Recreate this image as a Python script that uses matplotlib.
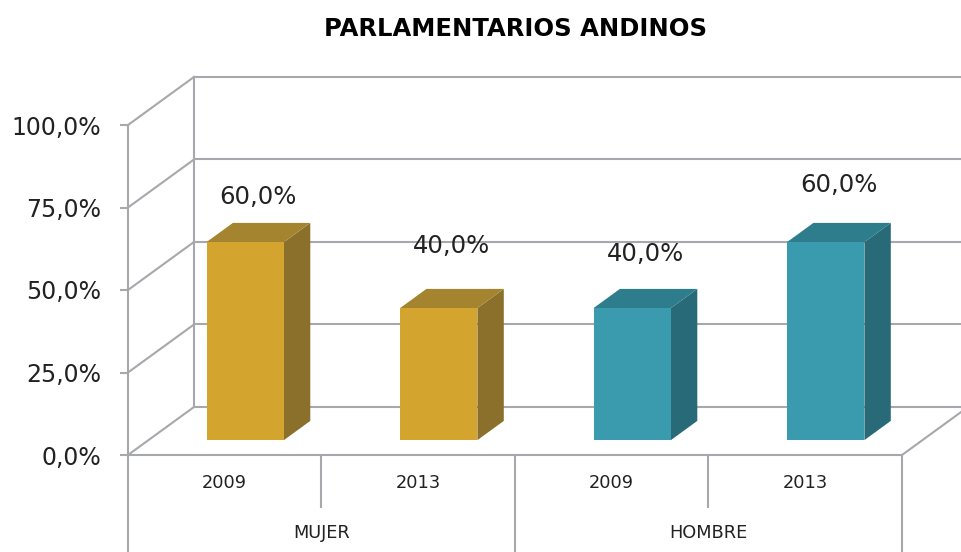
import matplotlib
matplotlib.use("Agg")
import matplotlib.pyplot as plt
from matplotlib.patches import Polygon
from matplotlib.ticker import FuncFormatter

# ---- data ----
groups = ["MUJER", "HOMBRE"]
years = ["2009", "2013", "2009", "2013"]
values = [0.60, 0.40, 0.40, 0.60]
title = "PARLAMENTARIOS ANDINOS"
yticks = [0.0, 0.25, 0.50, 0.75, 1.0]

# ---- style ----
front_cols = ["#d3a52f", "#d3a52f", "#3b9bae", "#3b9bae"]
top_cols = ["#a5842f", "#a5842f", "#2d7d8c", "#2d7d8c"]
side_cols = ["#8b702c", "#8b702c", "#286a78", "#286a78"]
label_lift = [0.08, 0.13, 0.105, 0.115]   # excel placed these a bit unevenly
grid_col = "#a6a8ab"
lw = 1.5

# depth of the fake 3d box, in data units (cat units / value units)
DX = 0.341
DY = 0.1455
BAR_W = 0.40
D0, D1 = 0.31, 0.71   # front and back of bars as a fraction of the depth

plt.rcParams["font.family"] = "DejaVu Sans"

W, H = 962, 552
fig = plt.figure(figsize=(W / 100, H / 100), dpi=100)
# front plane: x 0..4 -> px 128..902, y 0..1 -> px 455..125
ax = fig.add_axes([128 / W, (H - 455) / H, 774 / W, 330 / H])
ax.set_xlim(0, len(values))
ax.set_ylim(0, 1)

for s in ["top", "right"]:
    ax.spines[s].set_visible(False)
for s in ["left", "bottom"]:
    ax.spines[s].set_color(grid_col)
    ax.spines[s].set_linewidth(lw)
    ax.spines[s].set_zorder(1)

ax.set_xticks([])
ax.set_yticks(yticks)
ax.yaxis.set_major_formatter(FuncFormatter(lambda v, p: f"{v * 100:.1f}%".replace(".", ",")))
ax.tick_params(axis="y", direction="out", length=5.8, width=lw, color=grid_col,
               pad=13.5, labelsize=17, labelcolor="#222222")

n = len(values)

# left wall diagonals + back wall gridlines
for v in yticks:
    ax.plot([0, DX], [v, v + DY], color=grid_col, lw=lw, clip_on=False, zorder=1)
    ax.plot([DX, n + DX], [v + DY, v + DY], color=grid_col, lw=lw, clip_on=False, zorder=1)
ax.plot([DX, DX], [DY, 1 + DY], color=grid_col, lw=lw, clip_on=False, zorder=1)
# floor right edge
ax.plot([n, n + DX], [0, DY], color=grid_col, lw=lw, clip_on=False, zorder=1)

# category area below the floor
bottom = -0.32
for i in range(n + 1):
    if i % 2 == 0:
        ax.plot([i, i], [0, bottom], color=grid_col, lw=lw, clip_on=False, zorder=1)
    else:
        ax.plot([i, i], [0, -0.158], color=grid_col, lw=lw, clip_on=False, zorder=1)

for i, yr in enumerate(years):
    ax.text(i + 0.5, -0.085, yr, ha="center", va="center", fontsize=12.8, color="#222222")
for g, name in enumerate(groups):
    ax.text(2 * g + 1, -0.236, name, ha="center", va="center", fontsize=12.8, color="#222222")

# bars
for i, v in enumerate(values):
    xl = i + 0.5 - BAR_W / 2
    xr = i + 0.5 + BAR_W / 2
    fx, fy = D0 * DX, D0 * DY
    bx, by = D1 * DX, D1 * DY
    front = [(xl + fx, fy), (xr + fx, fy), (xr + fx, v + fy), (xl + fx, v + fy)]
    top = [(xl + fx, v + fy), (xr + fx, v + fy), (xr + bx, v + by), (xl + bx, v + by)]
    side = [(xr + fx, fy), (xr + bx, by), (xr + bx, v + by), (xr + fx, v + fy)]
    ax.add_patch(Polygon(side, closed=True, fc=side_cols[i], ec="none", zorder=3, clip_on=False))
    ax.add_patch(Polygon(top, closed=True, fc=top_cols[i], ec="none", zorder=3, clip_on=False))
    ax.add_patch(Polygon(front, closed=True, fc=front_cols[i], ec="none", zorder=3, clip_on=False))

    lab = f"{v * 100:.1f}%".replace(".", ",")
    cx = i + 0.5 + (D0 + D1) / 2 * DX
    ax.text(cx, v + by + label_lift[i], lab, ha="center", va="center",
            fontsize=17.5, color="#222222", zorder=4)

fig.text(516 / W, 1 - 29 / H, title, ha="center", va="center",
         fontsize=17.5, fontweight="bold", color="black")

fig.savefig("out.png", dpi=100)
